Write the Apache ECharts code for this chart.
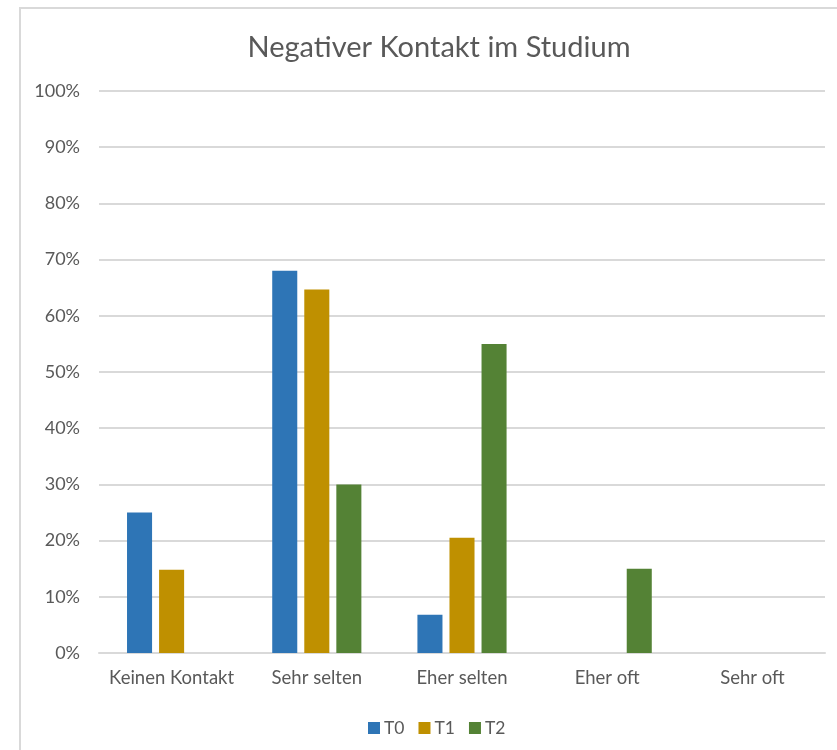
<!DOCTYPE html>
<html>
<head>
<meta charset="utf-8">
<script src="https://cdn.jsdelivr.net/npm/echarts@6/dist/echarts.min.js"></script>
<style>
html,body{margin:0;padding:0;background:#fff;}
#chart{width:837px;height:750px;}
</style>
</head>
<body>
<div id="chart"></div>
<script>
const categories = ['Keinen Kontakt', 'Sehr selten', 'Eher selten', 'Eher oft', 'Sehr oft'];
const seriesNames = ['T0', 'T1', 'T2'];
const t0 = [25, 68, 6.8, 0, 0];
const t1 = [14.8, 64.7, 20.5, 0, 0];
const t2 = [0, 30, 55, 15, 0];
const colors = ['#2e75b6', '#bf9000', '#548235'];
const titleText = 'Negativer Kontakt im Studium';

const font = 'Lato, "Open Sans", sans-serif';
const chart = echarts.init(document.getElementById('chart'), null, {renderer: 'canvas'});
const data = [t0, t1, t2];
chart.setOption({
  animation: false,
  textStyle: {fontFamily: font},
  graphic: [{
    type: 'rect', left: 19, top: 7, z: -10,
    shape: {width: 880, height: 800},
    style: {fill: '#fff', stroke: '#d9d9d9', lineWidth: 2}
  }],
  title: {
    text: titleText, left: 434, top: 28, textAlign: 'center',
    textStyle: {fontFamily: font, fontSize: 29, fontWeight: 'normal', color: '#595959'}
  },
  legend: {
    data: seriesNames, left: 363, top: 714, itemWidth: 12, itemHeight: 12, itemGap: 14,
    icon: 'rect',
    textStyle: {fontFamily: font, fontSize: 17.5, color: '#595959', padding: [0,0,0,-1]}
  },
  grid: {left: 99, right: 12, top: 91, bottom: 97, containLabel: false},
  xAxis: {
    type: 'category', data: categories,
    axisLine: {show: true, lineStyle: {color: '#d9d9d9', width: 2}},
    axisTick: {show: false},
    axisLabel: {interval: 0, fontFamily: font, fontSize: 18.5, color: '#595959', margin: 16}
  },
  yAxis: {
    type: 'value', min: 0, max: 100, interval: 10,
    axisLine: {show: false}, axisTick: {show: false},
    splitLine: {lineStyle: {color: '#d9d9d9', width: 2}},
    axisLabel: {fontFamily: font, fontSize: 18, color: '#595959', margin: 19, formatter: '{value}%'}
  },
  series: seriesNames.map((n, i) => ({
    name: n, type: 'bar', data: data[i],
    barGap: '28%', barCategoryGap: '38.6%',
    itemStyle: {color: colors[i]}
  }))
});
</script>
</body>
</html>
